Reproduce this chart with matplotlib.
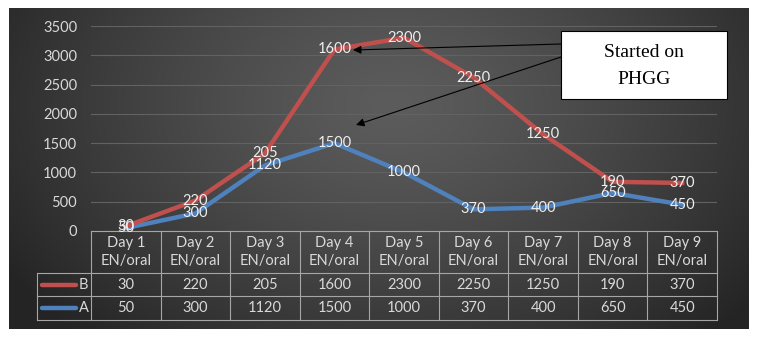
import numpy as np
import matplotlib
matplotlib.use("Agg")
import matplotlib.pyplot as plt
import matplotlib.transforms as mtransforms
from matplotlib.patches import Rectangle

# ---- data ----
categories = ["Day 1\nEN/oral", "Day 2\nEN/oral", "Day 3\nEN/oral", "Day 4\nEN/oral",
              "Day 5\nEN/oral", "Day 6\nEN/oral", "Day 7\nEN/oral", "Day 8\nEN/oral",
              "Day 9\nEN/oral"]
series_A = [50, 300, 1120, 1500, 1000, 370, 400, 650, 450]
series_B = [30, 220, 205, 1600, 2300, 2250, 1250, 190, 370]
yticks = [0, 500, 1000, 1500, 2000, 2500, 3000, 3500]
annotation_text = "Started on\nPHGG"

# stacked line chart: B is drawn on top of A
stack_B = [a + b for a, b in zip(series_A, series_B)]

plt.rcParams["font.family"] = ["Lato", "DejaVu Sans"]

W, H = 757, 338
fig = plt.figure(figsize=(W / 100, H / 100), dpi=100)
fig.patch.set_facecolor("white")

def fx(x):
    return x / W

def fy(y):
    return 1 - y / H

# ---- gradient background ----
bg = fig.add_axes([fx(9), fy(329), fx(749) - fx(9), fy(8) - fy(329)])
gw, gh = 740, 321
xx, yy = np.meshgrid(np.linspace(0, 1, gw), np.linspace(0, 1, gh))
d = np.sqrt(((xx - 0.52) / 0.62) ** 2 + ((yy - 0.3) / 1.0) ** 2)
v = 92 - 56 * np.clip(d, 0, 1) ** 1.3
img = np.dstack([v, v, v]) / 255.0
bg.imshow(img, aspect="auto", extent=[0, 1, 1, 0])
bg.set_axis_off()

# ---- main axes ----
ax = fig.add_axes([fx(91), fy(231), fx(717) - fx(91), fy(26) - fy(231)])
ax.patch.set_alpha(0)
x = np.arange(len(categories))
ax.set_xlim(-0.5, len(categories) - 0.5)
ax.set_ylim(0, 3500)
ax.set_yticks(yticks)
ax.set_yticklabels([str(t) for t in yticks])
ax.tick_params(axis="y", length=0, pad=10, labelcolor="#d9d9d9", labelsize=10.5)
ax.set_xticks([])
for s in ax.spines.values():
    s.set_visible(False)
ax.grid(axis="y", color="#626262", lw=0.8)
ax.set_axisbelow(True)

col_A = "#4f81bd"
col_B = "#c0504d"
ax.plot(x, series_A, color=col_A, lw=3.2, solid_joinstyle="round", zorder=3)
ax.plot(x, stack_B, color=col_B, lw=3.2, solid_joinstyle="round", zorder=4)

lab_col = "#eeeeee"
for i in range(len(x)):
    ax.text(x[i], series_A[i], str(series_A[i]), ha="center", va="center",
            color=lab_col, fontsize=10.5, zorder=6)
    ax.text(x[i], stack_B[i], str(series_B[i]), ha="center", va="center",
            color=lab_col, fontsize=10.5, zorder=6)

# ---- data table ----
trans = mtransforms.blended_transform_factory(ax.transData, fig.transFigure)
grid_col = "#a6a6a6"
n = len(categories)
y_top, y_r1, y_r2, y_bot = fy(231), fy(273), fy(296), fy(320)
ax.plot([-0.5, n - 0.5], [y_top, y_top], transform=trans, color=grid_col, lw=0.8, clip_on=False)
for yy_ in (y_r1, y_r2, y_bot):
    fig.add_artist(plt.Line2D([fx(37), fx(717)], [yy_, yy_], color=grid_col, lw=0.8))
for k in range(n + 1):
    ax.plot([k - 0.5, k - 0.5], [y_top, y_bot], transform=trans, color=grid_col,
            lw=0.8, clip_on=False)
fig.add_artist(plt.Line2D([fx(37), fx(37)], [y_r1, y_bot], color=grid_col, lw=0.8))

txt_col = "#d9d9d9"
for i, c in enumerate(categories):
    ax.text(i, fy(252), c, transform=trans, ha="center", va="center",
            color=txt_col, fontsize=10.5, linespacing=1.4)
    ax.text(i, fy(285), str(series_B[i]), transform=trans, ha="center", va="center",
            color=txt_col, fontsize=10.5)
    ax.text(i, fy(308), str(series_A[i]), transform=trans, ha="center", va="center",
            color=txt_col, fontsize=10.5)

for name, col, yrow in (("B", col_B, 285), ("A", col_A, 308)):
    fig.add_artist(plt.Line2D([fx(42), fx(76)], [fy(yrow), fy(yrow)], color=col,
                              lw=3.2, solid_capstyle="round"))
    fig.text(fx(79), fy(yrow), name, ha="left", va="center", color=txt_col, fontsize=10.5)

# ---- annotation box and arrows ----
fig.add_artist(Rectangle((fx(561), fy(99)), fx(727) - fx(561), fy(31) - fy(99),
                         transform=fig.transFigure, facecolor="white",
                         edgecolor="black", lw=0.8, zorder=10))
fig.text(fx(644), fy(66), annotation_text, ha="center", va="center",
         family="Liberation Serif", fontsize=14, color="black", linespacing=1.75,
         zorder=11)
arrow_kw = dict(arrowstyle="-|>", color="black", lw=0.8, mutation_scale=12,
                shrinkA=0, shrinkB=0)
ax.annotate("", xy=(fx(353), fy(50)), xycoords="figure fraction",
            xytext=(fx(561), fy(44)), textcoords="figure fraction",
            arrowprops=arrow_kw, zorder=9)
ax.annotate("", xy=(fx(356), fy(125)), xycoords="figure fraction",
            xytext=(fx(561), fy(57)), textcoords="figure fraction",
            arrowprops=arrow_kw, zorder=9)

fig.savefig("out.png", dpi=100, facecolor="white")
